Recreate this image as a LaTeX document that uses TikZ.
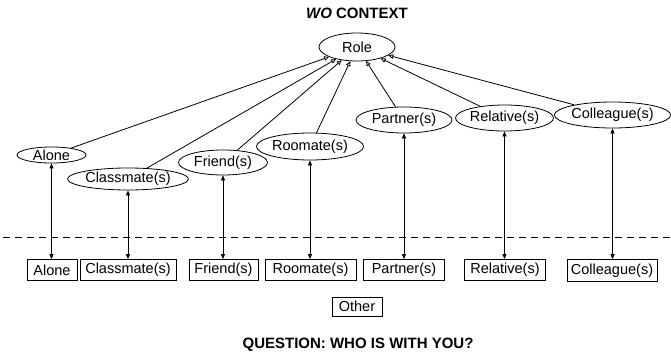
\documentclass[tikz,border=0pt]{standalone}
\usepackage{fontspec}
\setmainfont{Liberation Sans}
\usepackage{tikz}
\usetikzlibrary{shapes.geometric, arrows.meta}
\tikzstyle{ctx} = [ellipse, draw, inner sep=0pt, line width=0.8pt, font=\fontsize{14.5}{17}\selectfont]
\tikzstyle{ans} = [rectangle, draw, inner xsep=2pt, inner ysep=0pt, minimum height=21pt, line width=0.8pt, font=\fontsize{14.5}{17}\selectfont]
\tikzstyle{isa} = [line width=0.8pt, -{Triangle[open, length=5pt, width=4.5pt]}]
\tikzstyle{link} = [line width=0.8pt, {Triangle[length=5pt, width=4pt]}-{Triangle[length=5pt, width=4pt]}]
\tikzstyle{heading} = [font=\fontsize{15}{17}\selectfont\bfseries]

\begin{document}
\begin{tikzpicture}[x=1pt, y=-1pt]
                \useasboundingbox (0,0) rectangle (671,356);

                \node (t) [heading] at (357,13) {\textit{WO} CONTEXT};
                \node (role) [ctx, minimum width=76pt, minimum height=28pt] at (357,47) {Role};

                \node (1) [ctx, minimum width=69pt, minimum height=16pt] at (51.5,155) {Alone};
                \node (2) [ctx, minimum width=117pt, minimum height=22pt] at (128,179) {Classmate(s)};
                \node (3) [ctx, minimum width=89pt, minimum height=25pt] at (223,162.5) {Friend(s)};
                \node (4) [ctx, minimum width=106pt, minimum height=27pt] at (310,146.5) {Roomate(s)};
                \node (5) [ctx, minimum width=96pt, minimum height=26pt] at (404,120) {Partner(s)};
                \node (6) [ctx, minimum width=96pt, minimum height=26pt] at (504.5,118) {Relative(s)};
                \node (7) [ctx, minimum width=112pt, minimum height=26pt] at (612.5,115) {Colleague(s)};

                \node (q1) [ans, minimum width=50pt] at (52,270) {Alone};
                \node (q2) [ans, minimum width=96pt] at (128,270) {Classmate(s)};
                \node (q3) [ans, minimum width=69pt] at (223.5,270) {Friend(s)};
                \node (q4) [ans, minimum width=91pt] at (310.5,270) {Roomate(s)};
                \node (q5) [ans, minimum width=81pt] at (404,270) {Partner(s)};
                \node (q6) [ans, minimum width=81pt] at (505,270) {Relative(s)};
                \node (q7) [ans, minimum width=90pt, minimum height=22pt] at (612,270.5) {Colleague(s)};
                \node (q8) [ans, minimum width=50pt, minimum height=19pt] at (357,306.5) {Other};

                \node (q) [heading] at (358,345) {QUESTION: WHO IS WITH YOU?};

                \draw [dashed, line width=0.8pt, dash pattern=on 7pt off 5pt] (3,237) -- (671,237);

                \draw [isa] (1) -- (role);
                \draw [isa] (2) -- (role);
                \draw [isa] (3) -- (role);
                \draw [isa] (4) -- (role);
                \draw [isa] (5) -- (role);
                \draw [isa] (6) -- (role);
                \draw [isa] (7) -- (role);

                \draw [link] (1.south) -- (q1.north -| 1.south);
                \draw [link] (2) -- (q2);
                \draw [link] (3.south) -- (q3.north -| 3.south);
                \draw [link] (4.south) -- (q4.north -| 4.south);
                \draw [link] (5) -- (q5);
                \draw [link] (6.south) -- (q6.north -| 6.south);
                \draw [link] (7.south) -- (q7.north -| 7.south);
            \end{tikzpicture}
\end{document}
